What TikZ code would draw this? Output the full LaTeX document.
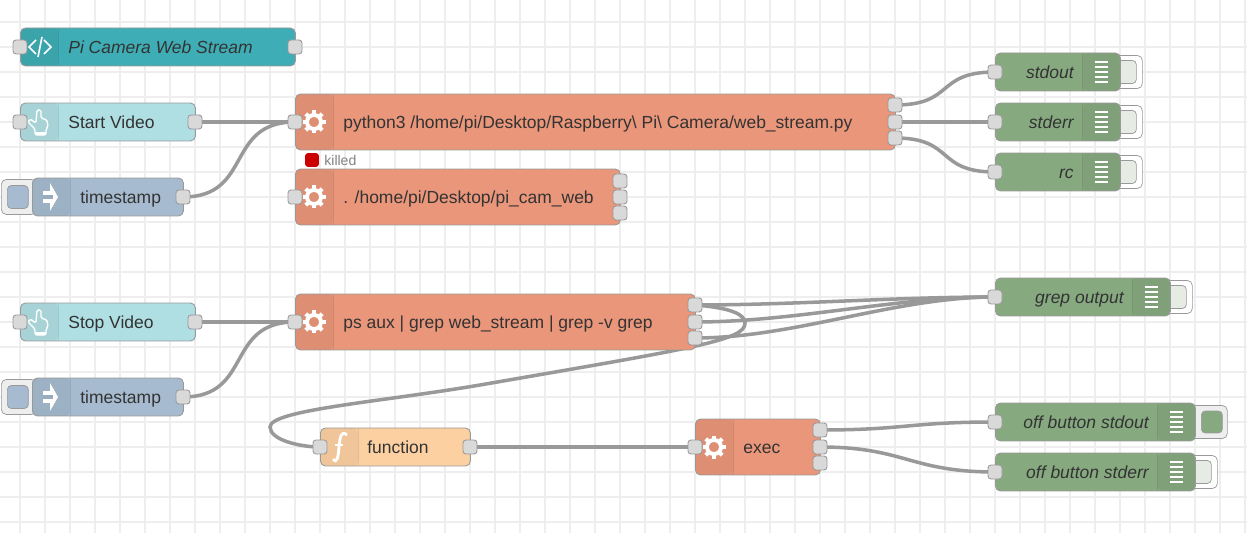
\documentclass[tikz,border=0pt]{standalone}
\usepackage{fontspec}
\setmainfont{Liberation Sans}
\usetikzlibrary{backgrounds}
\definecolor{gridline}{HTML}{EEEEEE}
\definecolor{edge}{HTML}{999999}
\definecolor{portfill}{HTML}{D9D9D9}
\definecolor{wirecol}{HTML}{999999}
\definecolor{inktext}{HTML}{333333}
\definecolor{tealnode}{HTML}{3FADB5}
\definecolor{uinode}{HTML}{B0DFE3}
\definecolor{injectnode}{HTML}{A6BBCF}
\definecolor{execnode}{HTML}{E9967A}
\definecolor{funcnode}{HTML}{FDD0A2}
\definecolor{debugnode}{HTML}{87A980}
\definecolor{debugoff}{HTML}{E6EBE4}
\definecolor{killedred}{HTML}{CC0000}
\tikzset{
  flownode/.style={draw=edge,line width=0.5pt,rounded corners=0.1cm,anchor=west,
    minimum height=0.76cm,inner sep=0pt},
  tallnode/.style={flownode,minimum height=1.12cm},
  iconleft/.style={path picture={
    \fill[black,opacity=0.05] (path picture bounding box.north west) rectangle ([xshift=0.76cm]path picture bounding box.south west);
    \draw[black,opacity=0.08,line width=0.5pt] ([xshift=0.76cm]path picture bounding box.north west) -- ([xshift=0.76cm]path picture bounding box.south west);}},
  iconright/.style={path picture={
    \fill[black,opacity=0.05] (path picture bounding box.north east) rectangle ([xshift=-0.76cm]path picture bounding box.south east);
    \draw[black,opacity=0.08,line width=0.5pt] ([xshift=-0.76cm]path picture bounding box.north east) -- ([xshift=-0.76cm]path picture bounding box.south east);}},
  port/.style={draw=edge,line width=0.5pt,fill=portfill,rounded corners=0.06cm,minimum size=0.28cm,inner sep=0pt},
  tag/.style={text=inktext,font=\fontsize{9.95}{12}\selectfont,inner sep=0pt,text height=0.26cm,text depth=0pt},
  tagleft/.style={tag,anchor=west},
  tagright/.style={tag,anchor=east,font=\fontsize{9.95}{12}\selectfont\itshape},
  btnouter/.style={draw=edge,line width=0.4pt,rounded corners=0.1cm,anchor=west,inner sep=0pt},
  btninner/.style={draw=edge,line width=0.4pt,rounded corners=0.08cm,anchor=west,inner sep=0pt},
  wire/.style={draw=wirecol,line width=2pt},
  pics/gearicon/.style={code={
    \draw[white,line width=2.2pt] (0,0) circle (7);
    \foreach \a in {0,45,...,315} \draw[white,line width=2.4pt] (\a:7) -- (\a:11.5);}},
  pics/listicon/.style={code={
    \foreach \b in {-10,-5,...,10} \draw[white,line width=0.8pt] (-6.5,\b) -- (6.5,\b);}},
  pics/injecticon/.style={code={
    \fill[white] (-7,-6) rectangle (1,6);
    \fill[white] (0,-14) -- (8,0) -- (0,14) -- cycle;
    \fill[injectnode!92!black] (-7,-2) rectangle (3,2);}},
  pics/handicon/.style={code={
    \draw[white,line width=0.8pt,line join=round,rounded corners=0.03cm]
      (-2,-12) -- (2,-12) -- (2,-4) -- (8,-2) -- (9,5) -- (7,7) -- (7,13) -- (-4,13) -- (-4,7) -- (-11,0) -- (-9,-3) -- (-3,1) -- cycle;
    \fill[white] (-4,10) rectangle (7,13);}},
  pics/codeicon/.style={code={
    \draw[white,line width=0.9pt] (-4,-7) -- (-11,0) -- (-4,7);
    \draw[white,line width=0.9pt] (4,-7) -- (11,0) -- (4,7);
    \draw[white,line width=0.9pt] (2,-10) -- (-2,10);}},
  pics/funcicon/.style={code={
    \draw[white,line width=1.6pt] (8,-12) .. controls (2,-17) and (1,-10) .. (0,0) .. controls (-1,11) and (-2,17) .. (-6,12);
    \draw[white,line width=1.2pt] (-4,-2) -- (4,-2);}},
}

\begin{document}
\begin{tikzpicture}[x=0.02cm,y=-0.02cm]
  \useasboundingbox (0,0) rectangle (1247,533);

  % left column
  \node[flownode,fill=tealnode,iconleft,minimum width=5.5cm] (stream) at (20,47) {};
  \pic at (40,47) {codeicon};
  \node[tagleft,font=\fontsize{9.95}{12}\selectfont\itshape] (streamtext) at (68,47) {Pi Camera Web Stream};
  \node[port] (streamin) at (20,47) {};
  \node[port] (streamout) at (295,47) {};

  \node[flownode,fill=uinode,iconleft,minimum width=3.5cm] (startvideo) at (20,122) {};
  \pic at (39,122) {handicon};
  \node[tagleft] (starttext) at (68,122) {Start Video};
  \node[port] (startin) at (20,122) {};
  \node[port] (startout) at (195,122) {};

  \node[btnouter,fill=gridline,minimum width=0.7cm,minimum height=0.7cm] (stampbtn) at (1,197) {};
  \node[btninner,fill=injectnode,minimum width=0.42cm,minimum height=0.46cm] (stampkey) at (7,197) {};
  \node[flownode,fill=injectnode,iconleft,minimum width=3.02cm] (stamp) at (32,197) {};
  \pic at (50,197) {injecticon};
  \node[tagleft] (stamptext) at (80,197) {timestamp};
  \node[port] (stampout) at (183,197) {};

  \node[flownode,fill=uinode,iconleft,minimum width=3.5cm] (stopvideo) at (20,322) {};
  \pic at (39,322) {handicon};
  \node[tagleft] (stoptext) at (68,322) {Stop Video};
  \node[port] (stopin) at (20,322) {};
  \node[port] (stopout) at (195,322) {};

  \node[btnouter,fill=gridline,minimum width=0.7cm,minimum height=0.7cm] (stampbtnb) at (1,397) {};
  \node[btninner,fill=injectnode,minimum width=0.42cm,minimum height=0.46cm] (stampkeyb) at (7,397) {};
  \node[flownode,fill=injectnode,iconleft,minimum width=3.02cm] (stampb) at (32,397) {};
  \pic at (50,397) {injecticon};
  \node[tagleft] (stamptextb) at (80,397) {timestamp};
  \node[port] (stampoutb) at (183,397) {};

  % exec nodes
  \node[tallnode,fill=execnode,iconleft,minimum width=12cm] (python) at (295,122) {};
  \pic at (314,122) {gearicon};
  \node[tagleft] (pythontext) at (343,122) {python3 /home/pi/Desktop/Raspberry\textbackslash{} Pi\textbackslash{} Camera/web\_stream.py};
  \node[port] (pythonin) at (295,122) {};
  \node[port] (pythona) at (895,105) {};
  \node[port] (pythonb) at (895,122) {};
  \node[port] (pythonc) at (895,138) {};

  \node[draw=killedred,fill=killedred,rounded corners=0.05cm,minimum size=0.26cm,inner sep=0pt] (killedmark) at (312,160) {};
  \node[anchor=west,inner sep=0pt,text=edge!85!black,font=\fontsize{8}{10}\selectfont] (killedtext) at (324,160) {killed};

  \node[tallnode,fill=execnode,iconleft,minimum width=6.5cm] (picam) at (295,197) {};
  \pic at (314,197) {gearicon};
  \node[tagleft] (picamtext) at (343,197) {. /home/pi/Desktop/pi\_cam\_web};
  \node[port] (picamin) at (295,197) {};
  \node[port] (picama) at (620,181) {};
  \node[port] (picamb) at (620,197) {};
  \node[port] (picamc) at (620,213) {};

  \node[tallnode,fill=execnode,iconleft,minimum width=8cm] (psaux) at (295,322) {};
  \pic at (314,322) {gearicon};
  \node[tagleft] (psauxtext) at (343,322) {ps aux | grep web\_stream | grep -v grep};
  \node[port] (psauxin) at (295,322) {};
  \node[port] (psauxa) at (695,305) {};
  \node[port] (psauxb) at (695,322) {};
  \node[port] (psauxc) at (695,338) {};

  \node[flownode,fill=funcnode,iconleft,minimum width=3cm] (func) at (320,447) {};
  \pic at (339,447) {funcicon};
  \node[tagleft] (functext) at (367,447) {function};
  \node[port] (funcin) at (320,447) {};
  \node[port] (funcout) at (470,447) {};

  \node[tallnode,fill=execnode,iconleft,minimum width=2.5cm] (exec) at (695,447) {};
  \pic at (714,447) {gearicon};
  \node[tagleft] (exectext) at (743,447) {exec};
  \node[port] (execin) at (695,447) {};
  \node[port] (execa) at (820,430) {};
  \node[port] (execb) at (820,447) {};
  \node[port] (execc) at (820,463) {};

  % debug nodes
  \node[btnouter,fill=white,minimum width=0.54cm,minimum height=0.66cm] (stdoutbtn) at (1115,72) {};
  \node[btninner,fill=debugoff,minimum width=0.42cm,minimum height=0.46cm] (stdoutkey) at (1115,72) {};
  \node[flownode,fill=debugnode,iconright,minimum width=2.5cm] (stdout) at (995,72) {};
  \pic at (1101,72) {listicon};
  \node[tagright] (stdouttext) at (1074,72) {stdout};
  \node[port] (stdoutin) at (995,72) {};

  \node[btnouter,fill=white,minimum width=0.54cm,minimum height=0.66cm] (stderrbtn) at (1115,122) {};
  \node[btninner,fill=debugoff,minimum width=0.42cm,minimum height=0.46cm] (stderrkey) at (1115,122) {};
  \node[flownode,fill=debugnode,iconright,minimum width=2.5cm] (stderr) at (995,122) {};
  \pic at (1101,122) {listicon};
  \node[tagright] (stderrtext) at (1074,122) {stderr};
  \node[port] (stderrin) at (995,122) {};

  \node[btnouter,fill=white,minimum width=0.54cm,minimum height=0.66cm] (rcbtn) at (1115,172) {};
  \node[btninner,fill=debugoff,minimum width=0.42cm,minimum height=0.46cm] (rckey) at (1115,172) {};
  \node[flownode,fill=debugnode,iconright,minimum width=2.5cm] (rc) at (995,172) {};
  \pic at (1101,172) {listicon};
  \node[tagright] (rctext) at (1074,172) {rc};
  \node[port] (rcin) at (995,172) {};

  \node[btnouter,fill=white,minimum width=0.54cm,minimum height=0.66cm] (grepbtn) at (1165,297) {};
  \node[btninner,fill=debugoff,minimum width=0.42cm,minimum height=0.46cm] (grepkey) at (1165,297) {};
  \node[flownode,fill=debugnode,iconright,minimum width=3.5cm] (grepout) at (995,297) {};
  \pic at (1151,297) {listicon};
  \node[tagright] (greptext) at (1124,297) {grep output};
  \node[port] (grepin) at (995,297) {};

  \node[btnouter,fill=gridline,minimum width=0.74cm,minimum height=0.66cm] (offoutbtn) at (1190,422) {};
  \node[btninner,fill=debugnode,minimum width=0.42cm,minimum height=0.44cm] (offoutkey) at (1201,422) {};
  \node[flownode,fill=debugnode,iconright,minimum width=4cm] (offout) at (995,422) {};
  \pic at (1176,422) {listicon};
  \node[tagright] (offouttext) at (1149,422) {off button stdout};
  \node[port] (offoutin) at (995,422) {};

  \node[btnouter,fill=white,minimum width=0.54cm,minimum height=0.66cm] (offerrbtn) at (1190,472) {};
  \node[btninner,fill=debugoff,minimum width=0.42cm,minimum height=0.46cm] (offerrkey) at (1190,472) {};
  \node[flownode,fill=debugnode,iconright,minimum width=4cm] (offerr) at (995,472) {};
  \pic at (1176,472) {listicon};
  \node[tagright] (offerrtext) at (1149,472) {off button stderr};
  \node[port] (offerrin) at (995,472) {};

  % grid and wires go under the nodes
  \begin{scope}[on background layer]
    \fill[white] (0,0) rectangle (1247,533);
    \foreach \x in {20,45,...,1245} \draw[gridline,line width=1pt] (\x,0) -- (\x,533);
    \foreach \y in {22,47,...,522} \draw[gridline,line width=1pt] (0,\y) -- (1247,\y);
    \draw[wire] (startout.center) -- (pythonin.center);
    \draw[wire] (stampout.center) .. controls +(70,0) and +(-70,0) .. (pythonin.center);
    \draw[wire] (stopout.center) -- (psauxin.center);
    \draw[wire] (stampoutb.center) .. controls +(70,0) and +(-70,0) .. (psauxin.center);
    \draw[wire] (pythona.center) .. controls +(60,0) and +(-60,0) .. (stdoutin.center);
    \draw[wire] (pythonb.center) -- (stderrin.center);
    \draw[wire] (pythonc.center) .. controls +(60,0) and +(-60,0) .. (rcin.center);
    \draw[wire] (psauxa.center) .. controls +(100,0) and +(-100,0) .. (grepin.center);
    \draw[wire] (psauxb.center) .. controls +(100,0) and +(-100,0) .. (grepin.center);
    \draw[wire] (psauxc.center) .. controls +(100,0) and +(-100,0) .. (grepin.center);
    \draw[wire] (psauxa.center) .. controls (733,308) and (745,315) .. (745,323)
      .. controls (745,340) and (700,347) .. (480,385)
      .. controls (380,402) and (270,410) .. (270,427)
      .. controls (270,440) and (300,447) .. (funcin.center);
    \draw[wire] (funcout.center) -- (execin.center);
    \draw[wire] (execa.center) .. controls +(85,0) and +(-85,0) .. (offoutin.center);
    \draw[wire] (execb.center) .. controls +(85,0) and +(-85,0) .. (offerrin.center);
  \end{scope}
\end{tikzpicture}
\end{document}
